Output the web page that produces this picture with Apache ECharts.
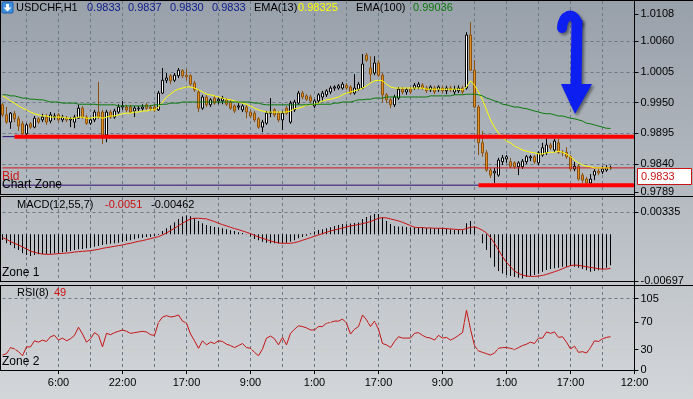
<!DOCTYPE html>
<html lang="en">
<head>
<meta charset="UTF-8">
<title>USDCHF,H1</title>
<script src="https://cdn.jsdelivr.net/npm/echarts@6/dist/echarts.min.js"></script>
<style>
    html, body { margin: 0; padding: 0; }
    #main { width: 693px; height: 399px; }
</style>
</head>
<body>
<div id="main"></div>
<script type="text/javascript">
    // axis labels
    var tickLabels = ['6:00', '22:00', '17:00', '9:00', '1:00', '17:00', '9:00', '1:00', '17:00', '12:00'];
    var priceTicks = [0.9789, 0.9840, 0.9895, 0.9950, 1.0005, 1.0060, 1.0108];
    var macdTicks = [-0.00697, 0.00335];
    var rsiTicks = [0, 30, 70, 105];
    var rsiLevels = [30, 70];

    // H1 bars, oldest first
    var opens = [
        .9946,.9928,.9915,.9930,.9921,.9912,.9894,.9912,.9906,.9921,
        .9919,.9924,.9917,.9924,.9928,.9919,.9922,.9919,.9915,.9922,
        .9940,.9924,.9913,.9919,.9933,.9933,.9892,.9933,.9924,.9933,
        .9942,.9942,.9942,.9935,.9939,.9939,.9946,.9942,.9942,.9937,
        .9967,.9990,.9998,.9990,.9998,1.0007,.9999,.9998,.9985,.9969,
        .9940,.9960,.9946,.9958,.9953,.9953,.9955,.9951,.9944,.9942,
        .9937,.9942,.9933,.9931,.9921,.9906,.9913,.9931,.9937,.9931,
        .9919,.9940,.9915,.9937,.9949,.9967,.9962,.9960,.9944,.9953,
        .9960,.9964,.9969,.9976,.9976,.9976,.9981,.9978,.9967,.9974,
        .9976,1.0035,1.0012,1.0003,1.0021,.9999,.9964,.9955,.9946,.9958,
        .9974,.9969,.9974,.9976,.9978,.9981,.9976,.9973,.9976,.9973,
        .9976,.9971,.9976,.9969,.9971,.9976,.9976,1.0071,1.0008,.9942,
        .9878,.9860,.9829,.9824,.9820,.9844,.9849,.9844,.9842,.9835,
        .9835,.9844,.9851,.9853,.9842,.9856,.9860,.9874,.9865,.9878,
        .9861,.9861,.9853,.9831,.9836,.9820,.9813,.9806,.9820,.9827,
        .9826,.9829,.9833
    ];
    var closes = [
        .9928,.9915,.9931,.9921,.9908,.9894,.9910,.9906,.9922,.9915,
        .9924,.9915,.9928,.9926,.9919,.9924,.9919,.9921,.9924,.9940,
        .9924,.9913,.9919,.9933,.9924,.9892,.9933,.9924,.9935,.9942,
        .9944,.9937,.9933,.9940,.9940,.9942,.9940,.9939,.9937,.9967,
        .9990,.9994,.9989,.9999,1.0008,.9998,.9996,.9983,.9973,.9940,
        .9960,.9946,.9955,.9949,.9956,.9958,.9947,.9940,.9935,.9944,
        .9944,.9933,.9926,.9919,.9906,.9915,.9931,.9933,.9928,.9919,
        .9931,.9931,.9949,.9951,.9967,.9960,.9956,.9953,.9953,.9964,
        .9967,.9971,.9976,.9978,.9980,.9983,.9976,.9967,.9976,.9983,
        1.0019,1.0026,1.0001,1.0021,.9999,.9964,.9955,.9946,.9960,.9974,
        .9969,.9973,.9969,.9981,.9983,.9976,.9971,.9978,.9969,.9978,
        .9971,.9976,.9973,.9974,.9976,.9969,1.0071,1.0008,.9942,.9878,
        .9860,.9829,.9820,.9827,.9847,.9851,.9853,.9836,.9835,.9842,
        .9845,.9853,.9853,.9844,.9860,.9869,.9874,.9869,.9881,.9861,
        .9860,.9853,.9831,.9836,.9813,.9811,.9806,.9813,.9827,.9824,
        .9831,.9833,.9833
    ];
    var highs = [
        .9949,.9942,.9933,.9935,.9926,.9917,.9913,.9915,.9926,.9924,
        .9930,.9930,.9933,.9931,.9931,.9928,.9926,.9924,.9928,.9946,
        .9944,.9928,.9922,.9937,.9987,.9937,.9937,.9937,.9939,.9947,
        .9953,.9946,.9946,.9944,.9944,.9947,.9949,.9946,.9946,.9971,
        1.0012,1.0003,1.0001,1.0003,1.0012,1.0010,1.0010,1.0001,.9989,.9973,
        .9964,.9964,.9958,.9962,.9960,.9962,.9958,.9955,.9947,.9949,
        .9947,.9946,.9937,.9935,.9924,.9919,.9935,.9958,.9940,.9935,
        .9935,.9944,.9953,.9955,.9971,.9971,.9965,.9964,.9956,.9967,
        .9971,.9974,.9980,.9981,.9983,.9987,.9985,.9981,1.0001,.9987,
        1.0037,1.0039,1.0033,1.0033,1.0026,1.0003,.9967,.9958,.9964,.9978,
        .9978,.9976,.9978,.9985,.9987,.9985,.9980,.9981,.9980,.9981,
        .9980,.9980,.9980,.9980,.9981,.9980,1.0076,1.0094,1.0026,.9946,
        .9899,.9865,.9833,.9833,.9851,.9856,.9856,.9851,.9845,.9845,
        .9849,.9856,.9856,.9856,.9863,.9878,.9885,.9878,.9885,.9885,
        .9865,.9870,.9856,.9844,.9840,.9824,.9817,.9822,.9831,.9831,
        .9836,.9838,.9837
    ];
    var lows = [
        .9924,.9912,.9903,.9915,.9899,.9892,.9892,.9903,.9904,.9912,
        .9915,.9910,.9913,.9919,.9915,.9915,.9915,.9906,.9904,.9921,
        .9921,.9910,.9910,.9915,.9921,.9876,.9879,.9921,.9921,.9930,
        .9937,.9933,.9931,.9924,.9935,.9935,.9937,.9935,.9933,.9935,
        .9965,.9985,.9983,.9987,.9994,.9994,.9990,.9980,.9969,.9933,
        .9937,.9942,.9942,.9946,.9947,.9947,.9944,.9937,.9931,.9937,
        .9933,.9922,.9922,.9915,.9903,.9897,.9910,.9924,.9924,.9915,
        .9901,.9928,.9912,.9933,.9946,.9956,.9953,.9949,.9940,.9949,
        .9953,.9960,.9965,.9971,.9973,.9973,.9973,.9964,.9964,.9971,
        .9974,1.0023,.9987,.9999,.9996,.9951,.9949,.9940,.9942,.9955,
        .9965,.9964,.9965,.9973,.9974,.9973,.9967,.9969,.9965,.9969,
        .9967,.9965,.9969,.9964,.9967,.9965,.9973,1.0007,.9940,.9856,
        .9853,.9826,.9815,.9806,.9817,.9838,.9842,.9833,.9831,.9820,
        .9831,.9840,.9845,.9840,.9838,.9853,.9856,.9865,.9861,.9858,
        .9854,.9849,.9827,.9827,.9810,.9806,.9802,.9802,.9811,.9820,
        .9822,.9826,.9830
    ];

    var ema13 = [
        .9962,.9958,.9953,.9949,.9944,.9940,.9937,.9933,.9930,.9928,
        .9926,.9926,.9924,.9924,.9924,.9924,.9922,.9922,.9922,.9924,
        .9924,.9922,.9922,.9924,.9924,.9922,.9924,.9926,.9926,.9928,
        .9930,.9931,.9931,.9933,.9933,.9935,.9935,.9937,.9937,
        .9942,.9951,.9960,.9965,.9971,.9974,.9976,.9978,.9978,.9976,.9973,
        .9969,.9965,.9964,.9962,.9960,.9958,.9956,.9955,.9953,.9951,
        .9949,.9947,.9944,.9940,.9937,.9935,.9933,.9933,.9933,.9933,
        .9933,.9933,.9935,.9939,.9940,.9942,.9946,.9946,.9947,.9949,
        .9953,.9955,.9956,.9958,.9960,.9964,.9967,.9969,.9971,.9973,
        .9976,.9980,.9985,.9989,.9990,.9989,.9983,.9978,.9976,.9976,
        .9976,.9976,.9976,.9976,.9976,.9976,.9974,.9974,.9974,.9974,
        .9974,.9974,.9974,.9974,.9974,.9973,
        .9978,.9989,.9981,.9969,.9955,.9937,.9919,.9906,.9895,.9888,
        .9881,.9878,.9872,.9869,.9865,.9863,.9861,.9860,.9858,.9858,
        .9860,.9861,.9861,.9863,.9861,.9858,.9853,.9847,.9842,.9838,
        .9836,.9835,.9833,.9833,.9833,.9833,.98325
    ];
    var ema100 = [
        .9964,.9964,.9962,.9962,.9960,.9958,.9958,.9956,.9956,.9955,
        .9955,.9953,.9951,.9951,.9951,.9949,.9949,.9949,.9949,.9947,
        .9947,.9947,.9947,.9947,.9946,.9946,.9946,.9946,.9946,.9944,
        .9944,.9944,.9944,.9944,.9944,.9944,.9944,.9944,.9946,.9946,
        .9947,.9947,.9949,.9949,.9949,.9951,.9951,.9951,.9951,.9951,
        .9951,.9951,.9951,.9951,.9951,.9951,.9951,.9951,.9951,.9951,
        .9951,.9951,.9951,.9949,.9949,.9947,.9946,.9946,.9946,.9946,
        .9946,.9946,.9946,.9946,.9946,.9946,.9946,.9947,.9947,.9947,
        .9947,.9947,.9947,.9949,.9949,.9951,.9951,.9951,.9953,.9955,
        .9955,.9956,.9956,.9958,.9958,.9958,.9960,.9960,.9960,.9960,
        .9960,.9960,.9960,.9960,.9960,.9960,.9960,.9962,.9962,.9962,
        .9962,.9962,.9962,.9964,.9964,.9964,.9965,.9965,.9965,.9964,
        .9962,.9958,.9956,.9953,.9951,.9947,.9946,.9944,.9942,.9942,
        .9940,.9939,.9937,.9935,.9933,.9931,.9930,.9930,.9928,.9926,
        .9926,.9924,.9922,.9921,.9919,.9917,.9913,.9912,.9910,.9908,
        .9906,.9904,.99036
    ];

    // MACD(12,55,7): histogram and signal
    var macdMain = [
        -0.00085,-0.00135,-0.0016,-0.0021,-0.00235,-0.00285,-0.0031,-0.00325,-0.0031,-0.0030,
        -0.0030,-0.00295,-0.0029,-0.00285,-0.00285,-0.0027,-0.0026,-0.0025,-0.00235,-0.00225,
        -0.0022,-0.0021,-0.0020,-0.00185,-0.00175,-0.0016,-0.0015,-0.0014,-0.00135,-0.00125,
        -0.0011,-0.0010,-0.0009,-0.00075,-0.0006,-0.0005,-0.0004,-0.00035,-0.0003,-0.0001,
        0.0005,0.0009,0.0013,0.0018,0.0023,0.00265,0.0028,0.0027,0.0024,0.0020,
        0.00165,0.0014,0.00125,0.0011,0.0010,0.0009,0.00075,0.0006,0.0005,0.0003,
        0.0002,0.00003,-0.00035,-0.0007,-0.0009,-0.0011,-0.00125,-0.00135,-0.00135,-0.00135,
        -0.00135,-0.00125,-0.0011,-0.0009,-0.0006,-0.0004,-0.0002,0.00015,0.0004,0.00065,
        0.00075,0.0009,0.00105,0.00125,0.0014,0.00155,0.0015,0.0016,0.0017,0.00175,
        0.0023,0.0026,0.0028,0.00305,0.00305,0.0025,0.0020,0.00155,0.00125,0.00115,
        0.00115,0.0011,0.0010,0.0010,0.0010,0.0010,0.00095,0.0009,0.0009,0.0009,
        0.0009,0.00085,0.00075,0.00065,0.00065,0.0006,0.00165,0.0020,0.00115,-0.00005,
        -0.00135,-0.00235,-0.0035,-0.00485,-0.0055,-0.00585,-0.0061,-0.00625,-0.0064,-0.0065,
        -0.0066,-0.0064,-0.00625,-0.0061,-0.0059,-0.0056,-0.00535,-0.0052,-0.0051,-0.0050,
        -0.00485,-0.00485,-0.00475,-0.00485,-0.0050,-0.0052,-0.0054,-0.0056,-0.0055,-0.0054,
        -0.0052,-0.0050,-0.00462
    ];
    var macdSignal = [
        -0.0005,-0.00075,-0.0011,-0.00135,-0.0016,-0.0019,-0.0022,-0.0025,-0.0027,-0.00285,
        -0.00295,-0.0030,-0.0030,-0.00295,-0.0029,-0.00285,-0.0028,-0.00275,-0.00265,-0.0026,
        -0.00255,-0.0025,-0.00245,-0.00235,-0.00225,-0.0021,-0.0020,-0.0019,-0.0018,-0.0017,
        -0.0016,-0.00145,-0.00135,-0.0012,-0.00105,-0.00095,-0.0008,-0.00065,-0.0005,-0.00035,
        -0.0001,0.0002,0.00055,0.0009,0.0013,0.00165,0.0020,0.0023,0.0024,0.0024,
        0.00235,0.0023,0.0021,0.0019,0.00165,0.00145,0.00125,0.00105,0.00085,0.0007,
        0.0005,0.0003,0.0001,-0.00015,-0.0004,-0.0006,-0.0008,-0.0010,-0.00115,-0.0013,
        -0.00135,-0.00135,-0.00135,-0.00125,-0.0011,-0.0009,-0.0007,-0.0005,-0.0003,-0.0001,
        0.0001,0.0003,0.0005,0.00065,0.0008,0.00095,0.0011,0.00125,0.00135,0.00145,
        0.0016,0.00175,0.0019,0.00215,0.0024,0.0025,0.00245,0.0023,0.00215,0.0020,
        0.0018,0.00155,0.0013,0.00105,0.0010,0.0010,0.00095,0.00095,0.0009,0.0009,
        0.0009,0.00085,0.0008,0.00075,0.0007,0.0007,0.00085,0.00105,0.0011,0.0009,
        0.0006,0.0002,-0.0005,-0.00135,-0.00235,-0.00335,-0.0042,-0.00485,-0.0055,-0.00585,
        -0.0061,-0.00625,-0.0063,-0.0063,-0.00625,-0.00615,-0.0060,-0.0058,-0.0056,-0.0054,
        -0.00515,-0.0049,-0.0047,-0.0046,-0.00465,-0.00475,-0.00485,-0.00495,-0.00505,-0.00515,
        -0.0052,-0.0052,-0.0051
    ];

    // RSI(8)
    var rsi8 = [
        22,24,33,31,27,21,34,34,43,41,
        44,42,49,51,44,47,43,46,51,63,
        53,41,46,55,51,34,54,52,55,57,
        59,57,54,55,56,57,56,52,51,70,
        78,80,78,79,81,72,69,53,43,32,
        43,37,41,39,43,42,38,36,33,36,
        39,33,32,26,21,31,47,50,46,37,
        48,37,54,60,65,64,62,59,59,64,
        64,69,70,72,72,75,69,53,60,64,
        81,74,64,72,60,39,37,33,42,49,
        47,47,47,54,55,51,48,47,44,51,
        47,48,44,47,51,55,88,60,36,28,
        26,24,22,25,32,33,33,32,30,33,
        36,38,41,39,47,47,56,54,56,48,
        49,41,31,35,26,27,25,33,43,42,
        46,48,49
    ];

    // horizontal objects on the price chart
    var bidPrice = 0.9833;
    var zoneTop = 0.9889;
    var zoneBottom = 0.9802;
    var zoneTopFrom = 3;      // bar where the upper red line starts
    var zoneBottomFrom = 119; // bar where the lower red line starts

    var barCount = 159;   // 153 bars plus the empty shift on the right
    var lastIdx = barCount - 1;
    var cats = [];
    for (var i = 0; i < barCount; i++) cats.push(i);
    var labelAt = {};
    tickLabels.forEach(function (t, k) { labelAt[14 + 16 * k] = t; });

    var candles = opens.map(function (o, i) {
        return [o, closes[i], lows[i], highs[i]];
    });

    var gridColor = '#6b7987';
    var none = 'rgba(0,0,0,0)';
    var font = 'Liberation Sans';

    function timeAxis(idx, withLabels) {
        return {
            type: 'category', gridIndex: idx, data: cats, boundaryGap: false,
            axisLine: {show: false},
            axisTick: {
                show: withLabels, length: 4, lineStyle: {color: '#000'},
                interval: function (i) { return labelAt[i] !== undefined; }
            },
            axisLabel: {
                show: withLabels, margin: 7, color: '#000', fontSize: 11, fontFamily: font,
                interval: function (i) { return labelAt[i] !== undefined; },
                formatter: function (v, i) { return labelAt[i] || ''; }
            },
            splitLine: {
                show: true,
                interval: function (i) { return (i - 6) % 8 === 0; },
                lineStyle: {color: gridColor, type: [3, 3], width: 1}
            }
        };
    }

    function valueAxis(idx, min, max, ticks, digits, splitColors) {
        return {
            type: 'value', gridIndex: idx, position: 'right', min: min, max: max,
            axisLine: {show: false},
            axisTick: {show: true, length: 4, customValues: ticks, lineStyle: {color: '#000'}},
            axisLabel: {
                show: true, customValues: ticks, margin: 6, color: '#000', fontSize: 11, fontFamily: font,
                formatter: function (v) { return v.toFixed(digits); }
            },
            splitLine: {show: true, lineStyle: {color: splitColors, type: [3, 3], width: 1}}
        };
    }

    function level(value, from, color, width) {
        return {
            type: 'line', xAxisIndex: 0, yAxisIndex: 0, silent: true, symbol: 'none',
            data: [[from, value], [lastIdx, value]],
            lineStyle: {color: color, width: width}
        };
    }

    function txt(x, y, s, color, size) {
        return {
            type: 'text', x: x, y: y, z: 100, silent: true,
            style: {text: s, fill: color, fontSize: size || 11, fontFamily: font, verticalAlign: 'middle'}
        };
    }

    function hline(x1, x2, y) {
        return {type: 'line', z: 90, silent: true, shape: {x1: x1, y1: y, x2: x2, y2: y}, style: {stroke: '#000', lineWidth: 1}};
    }

    function vline(x, y1, y2) {
        return {type: 'line', z: 90, silent: true, shape: {x1: x, y1: y1, x2: x, y2: y2}, style: {stroke: '#000', lineWidth: 1}};
    }

    var arrowBlue = '#0c1ef0';
    var arrowShadow = {shadowBlur: 3, shadowColor: 'rgba(0,0,0,0.45)', shadowOffsetX: 2, shadowOffsetY: 2};

    var myChart = echarts.init(document.getElementById('main'));
    myChart.setOption({
        animation: false,
        backgroundColor: new echarts.graphic.LinearGradient(0, 0, 0, 1, [
            {offset: 0, color: '#98a0aa'},
            {offset: 1, color: '#d3d6d9'}
        ]),
        textStyle: {fontFamily: font},
        grid: [
            {left: 2.5, right: 58.5, top: 1, height: 192},
            {left: 2.5, right: 58.5, top: 197, height: 84},
            {left: 2.5, right: 58.5, top: 286, height: 84}
        ],
        xAxis: [timeAxis(0, false), timeAxis(1, false), timeAxis(2, true)],
        yAxis: [
            valueAxis(0, 0.9788, 1.0132, priceTicks, 4,
                [none, gridColor, gridColor, gridColor, gridColor, gridColor, none]),
            valueAxis(1, -0.00699, 0.00558, macdTicks, 5, [none, gridColor]),
            valueAxis(2, 0, 123.7, rsiTicks, 0, [none, none, none, gridColor])
        ],
        series: [
            level(zoneTop, 0, '#2c0c70', 1),
            level(zoneBottom, 0, '#2c0c70', 1),
            level(bidPrice, 0, '#d01818', 1),
            {
                type: 'candlestick', xAxisIndex: 0, yAxisIndex: 0, data: candles,
                barWidth: 3, silent: true,
                itemStyle: {color: '#ffffff', color0: '#e2901f', borderColor: '#000000', borderColor0: '#8a5212', borderWidth: 1}
            },
            {
                type: 'line', name: 'EMA(13)', xAxisIndex: 0, yAxisIndex: 0, data: ema13,
                symbol: 'none', silent: true, lineStyle: {color: '#ffff00', width: 1}
            },
            {
                type: 'line', name: 'EMA(100)', xAxisIndex: 0, yAxisIndex: 0, data: ema100,
                symbol: 'none', silent: true, lineStyle: {color: '#0a7a0a', width: 1}
            },
            level(zoneTop, zoneTopFrom, '#ff0000', 4),
            level(zoneBottom, zoneBottomFrom, '#ff0000', 4),
            {
                type: 'bar', xAxisIndex: 1, yAxisIndex: 1, data: macdMain,
                barWidth: 1, silent: true, itemStyle: {color: '#000000'}
            },
            {
                type: 'line', xAxisIndex: 1, yAxisIndex: 1, data: macdSignal,
                symbol: 'none', silent: true, lineStyle: {color: '#cc1010', width: 1}
            },
            {
                type: 'line', xAxisIndex: 2, yAxisIndex: 2, data: rsi8,
                symbol: 'none', silent: true, lineStyle: {color: '#c41414', width: 1},
                markLine: {
                    symbol: 'none', silent: true, label: {show: false},
                    lineStyle: {color: '#d3c9b5', width: 1, type: [1, 2]},
                    data: rsiLevels.map(function (v) { return {yAxis: v}; })
                }
            }
        ],
        graphic: [
            // frames
            hline(0, 693, 0.5),
            vline(0.5, 0, 194),
            hline(0, 634, 194.5),
            hline(0, 693, 196.5),
            vline(0.5, 196, 282),
            hline(0, 634, 281.5),
            hline(0, 693, 285.5),
            vline(0.5, 285, 371),
            hline(0, 634, 370.5),
            vline(634.5, 0, 371),

            // symbol icon and header
            {type: 'rect', z: 100, silent: true, shape: {x: 2, y: 2, width: 11, height: 11, r: 1},
                style: {fill: '#3f8fe0', stroke: '#1f5fa8', lineWidth: 1}},
            {type: 'polygon', z: 101, silent: true,
                shape: {points: [[7.5, 11.5], [3.5, 7.5], [6, 7.5], [6, 4], [9, 4], [9, 7.5], [11.5, 7.5]]},
                style: {fill: '#ffffff'}},
            txt(16, 8, 'USDCHF,H1', '#000'),
            txt(87, 8, '0.9833', '#0a1a8a'),
            txt(128, 8, '0.9837', '#0a1a8a'),
            txt(170, 8, '0.9830', '#0a1a8a'),
            txt(212, 8, '0.9833', '#0a1a8a'),
            txt(254, 8, 'EMA(13)', '#000'),
            txt(298, 8, '0.98325', '#ffff00'),
            txt(356, 8, 'EMA(100)', '#000'),
            txt(413, 8, '0.99036', '#0a7a0a'),

            txt(17, 205, 'MACD(12,55,7)', '#000'),
            txt(105, 205, '-0.0051', '#cc1010'),
            txt(151, 205, '-0.00462', '#000'),
            txt(17, 293, 'RSI(8)', '#000'),
            txt(54, 293, '49', '#cc1010'),

            txt(2, 177, 'Bid', '#d01818', 12),
            txt(2, 185, 'Chart Zone', '#000', 12),
            txt(2, 273, 'Zone 1', '#000', 12),
            txt(2, 362, 'Zone 2', '#000', 12),

            // bid price box
            {type: 'rect', z: 100, silent: true, shape: {x: 637.5, y: 168.5, width: 54, height: 16},
                style: {fill: '#ffffff', stroke: '#c81414', lineWidth: 1}},
            txt(641, 177, '0.9833', '#c81414'),

            // blue arrow
            {type: 'bezierCurve', z: 110, silent: true,
                shape: {x1: 562, y1: 28, cpx1: 563, cpy1: 15, cpx2: 573, cpy2: 11, x2: 577, y2: 22},
                style: Object.assign({stroke: arrowBlue, lineWidth: 10, lineCap: 'round', fill: null}, arrowShadow)},
            {type: 'line', z: 110, silent: true,
                shape: {x1: 577, y1: 20, x2: 576, y2: 88},
                style: Object.assign({stroke: arrowBlue, lineWidth: 11, lineCap: 'butt'}, arrowShadow)},
            {type: 'polygon', z: 111, silent: true,
                shape: {points: [[561, 84], [592, 84], [575, 114]]},
                style: Object.assign({fill: arrowBlue}, arrowShadow)}
        ]
    });
</script>
</body>
</html>
